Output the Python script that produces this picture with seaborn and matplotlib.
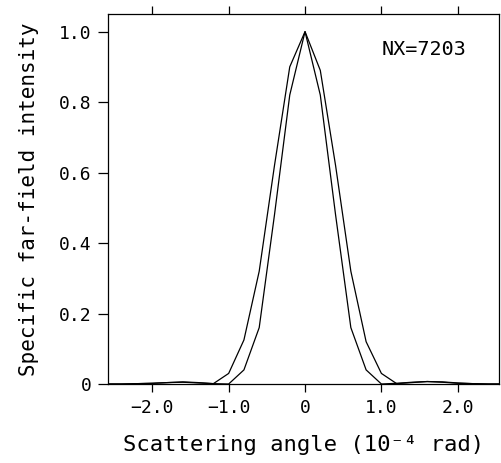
import numpy as np
import pandas as pd
import matplotlib
matplotlib.use("Agg")
import matplotlib.pyplot as plt
import seaborn as sns

# ---- data ----
angle = [-2.6, -2.4, -2.2, -2.0, -1.8, -1.6, -1.4, -1.2, -1.0, -0.8, -0.6, -0.4, -0.2,
         0.0, 0.2, 0.4, 0.6, 0.8, 1.0, 1.2, 1.4, 1.6, 1.8, 2.0, 2.2, 2.4, 2.6]
wide_curve = [0.0, 0.0, 0.001, 0.002, 0.004, 0.006, 0.004, 0.001, 0.03, 0.125, 0.32, 0.62, 0.90,
              1.0, 0.89, 0.62, 0.32, 0.12, 0.03, 0.001, 0.004, 0.007, 0.006, 0.003, 0.001, 0.0, 0.0]
narrow_curve = [0.0, 0.0, 0.001, 0.002, 0.004, 0.005, 0.003, 0.001, 0.0, 0.04, 0.16, 0.48, 0.82,
                1.0, 0.82, 0.48, 0.16, 0.04, 0.0, 0.002, 0.005, 0.007, 0.005, 0.002, 0.001, 0.0, 0.0]
x_ticks = [-2.0, -1.0, 0.0, 1.0, 2.0]
x_ticklabels = ["\u22122.0", "\u22121.0", "0", "1.0", "2.0"]
y_ticks = [0.0, 0.2, 0.4, 0.6, 0.8, 1.0]
y_ticklabels = ["0", "0.2", "0.4", "0.6", "0.8", "1.0"]
annotation = "NX=7203"
x_label = "Scattering angle (10\u207b\u2074 rad)"
y_label = "Specific far-field intensity"

df = pd.DataFrame({
    "angle": angle * 2,
    "intensity": wide_curve + narrow_curve,
    "curve": ["wide"] * len(angle) + ["narrow"] * len(angle),
})

sns.set_style("ticks")
plt.rcParams["font.family"] = ["DejaVu Sans Mono", "DejaVu Sans"]
plt.rcParams["text.color"] = "black"
plt.rcParams["axes.labelcolor"] = "black"

fig = plt.figure(figsize=(5.01, 4.63), dpi=100)
ax = fig.add_axes([108 / 501, (463 - 384) / 463, (499 - 108) / 501, (384 - 14) / 463])

sns.lineplot(data=df, x="angle", y="intensity", units="curve", estimator=None,
             color="black", linewidth=0.9, ax=ax, legend=False)

ax.set_xlim(-2.58, 2.54)
ax.set_ylim(0, 1.05)
ax.set_xticks(x_ticks)
ax.set_xticklabels(x_ticklabels)
ax.set_yticks(y_ticks)
ax.set_yticklabels(y_ticklabels)

ax.tick_params(axis="x", which="both", direction="out", length=6, width=0.9,
               top=True, labeltop=False, labelsize=13, pad=5, color="black",
               labelcolor="black")
ax.tick_params(axis="y", which="both", direction="out", length=7, width=0.9,
               right=False, labelsize=13, pad=5, color="black", labelcolor="black")
for s in ax.spines.values():
    s.set_visible(True)
    s.set_color("black")
    s.set_linewidth(0.9)

ax.set_xlabel(x_label, fontsize=16, labelpad=13)
ax.set_ylabel(y_label, fontsize=15, labelpad=14)
ax.text(0.7, 0.905, annotation, transform=ax.transAxes, fontsize=14.5,
        ha="left", va="center", color="black")

fig.savefig("out.png", dpi=100, facecolor="white")
